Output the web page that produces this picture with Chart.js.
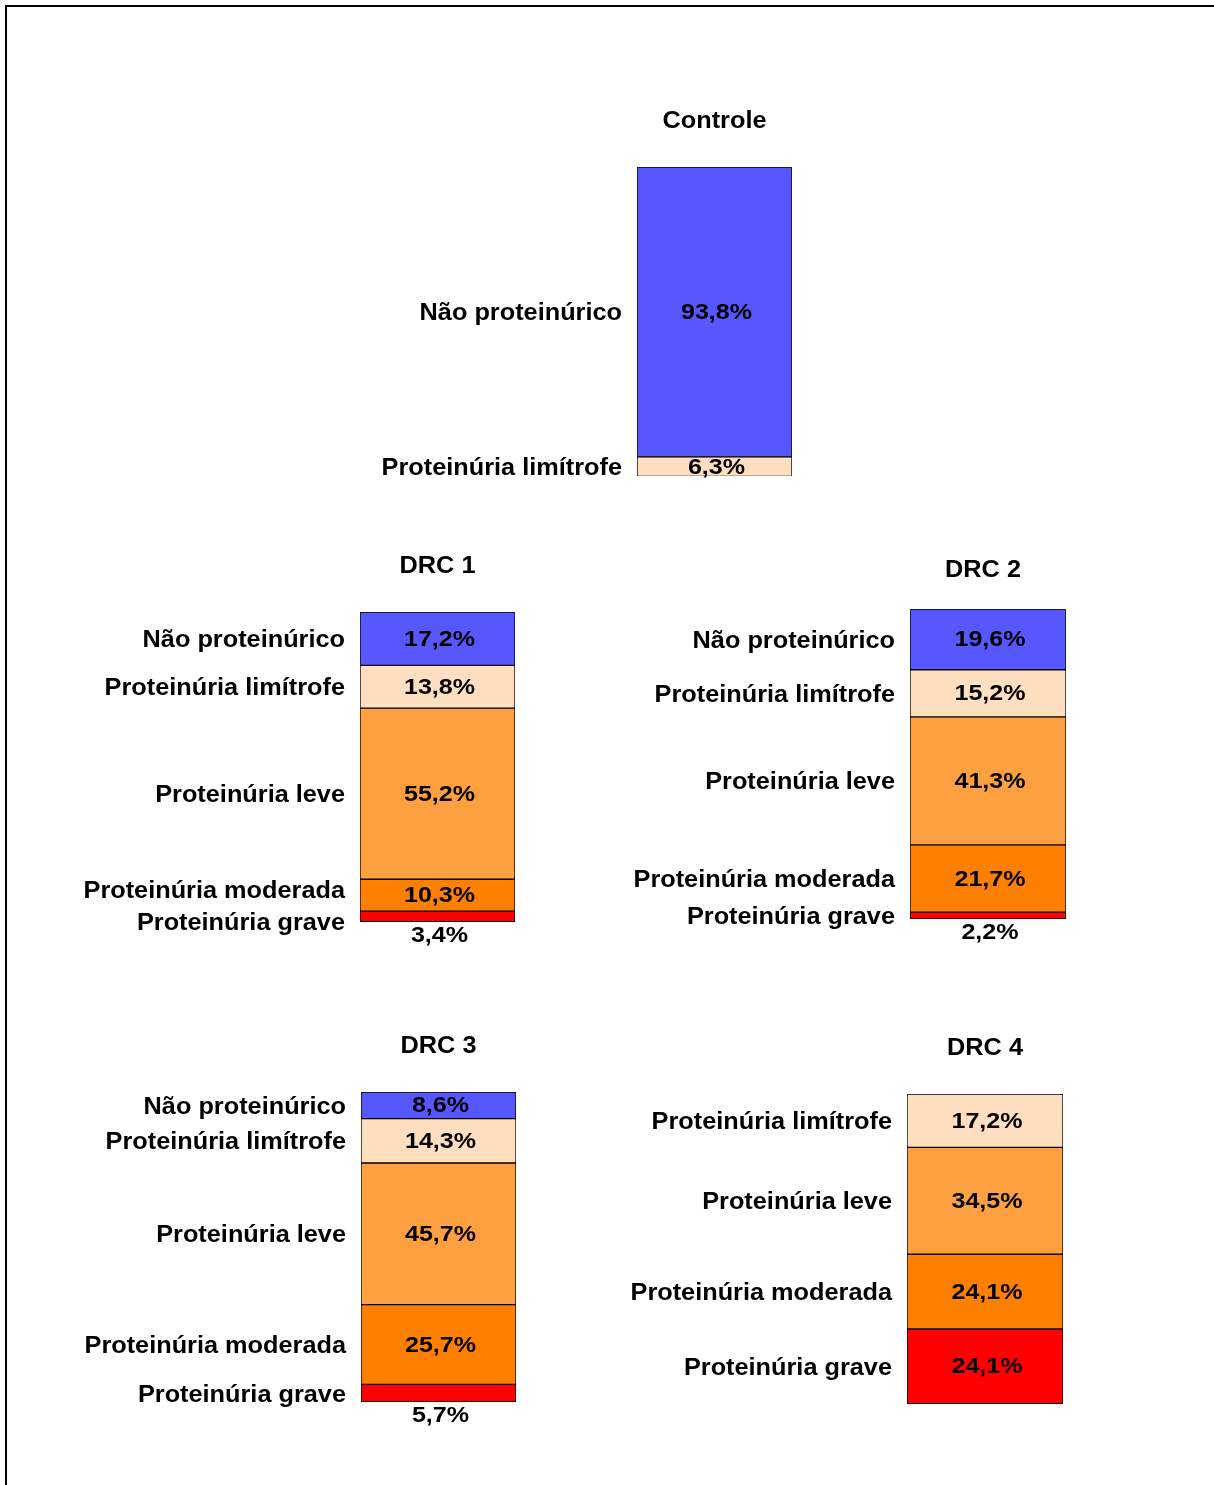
<!DOCTYPE html>
<html>
<head>
<meta charset="utf-8">
<script src="https://cdn.jsdelivr.net/npm/chart.js@4.4.1/dist/chart.umd.min.js"></script>
<style>
    html, body { margin: 0; padding: 0; background: #fff; }
    body { width: 1214px; height: 1485px; position: relative; overflow: hidden; }
    .frame { position: absolute; left: 5px; top: 5px; right: -10px; bottom: -10px; border-left: 2px solid #000; border-top: 2px solid #000; }
    canvas { position: absolute; }
</style>
</head>
<body>
<div class="frame"></div>

<script>
// categories, top to bottom in every bar
const categories = ['Não proteinúrico', 'Proteinúria limítrofe', 'Proteinúria leve', 'Proteinúria moderada', 'Proteinúria grave'];
const categoryColors = ['#5757FF', '#FFDFBF', '#FFA040', '#FF8000', '#FF0000'];

const groupNames = ['Controle', 'DRC 1', 'DRC 2', 'DRC 3', 'DRC 4'];
const controleValues = [93.8, 6.3, null, null, null];
const drc1Values = [17.2, 13.8, 55.2, 10.3, 3.4];
const drc2Values = [19.6, 15.2, 41.3, 21.7, 2.2];
const drc3Values = [8.6, 14.3, 45.7, 25.7, 5.7];
const drc4Values = [null, 17.2, 34.5, 24.1, 24.1];
const groupValues = [controleValues, drc1Values, drc2Values, drc3Values, drc4Values];

// where each bar sits on the page: left, top, width, height, title gap
const panels = [
    { x: 637, y: 167, w: 155, h: 309, titleGap: 47 },
    { x: 360, y: 612, w: 155, h: 310, titleGap: 47 },
    { x: 910, y: 609, w: 156, h: 310, titleGap: 40, titleDx: -5 },
    { x: 361, y: 1092, w: 155, h: 310, titleGap: 47 },
    { x: 907, y: 1094, w: 156, h: 310, titleGap: 47 }
];

const PAD = { left: 340, right: 40, top: 80, bottom: 40 };
const FONT = "'Liberation Sans', Arial, sans-serif";

const fmt = v => v.toFixed(1).replace('.', ',') + '%';

// slightly widened bold text, like the old office chart fonts
function wideText(ctx, text, x, y, align, sx) {
    ctx.save();
    ctx.translate(x, y);
    ctx.scale(sx, 1);
    ctx.textAlign = align;
    ctx.fillText(text, 0, 0);
    ctx.restore();
}

// category names on the left, values inside (or under small slices), title on top
const segmentLabels = {
    id: 'segmentLabels',
    afterDatasetsDraw(chart, args, opts) {
        const ctx = chart.ctx;
        const area = chart.chartArea;
        const items = [];
        chart.data.datasets.forEach((ds, i) => {
            const v = ds.data[0];
            if (v == null) return;
            const bar = chart.getDatasetMeta(i).data[0];
            const top = Math.min(bar.y, bar.base), bottom = Math.max(bar.y, bar.base);
            items.push({ name: ds.label, v, mid: (top + bottom) / 2, ly: (top + bottom) / 2, x: bar.x });
        });

        // keep category names from colliding
        for (let pass = 0; pass < 5; pass++) {
            for (let i = 1; i < items.length; i++) {
                const d = 32 - (items[i].ly - items[i - 1].ly);
                if (d > 0) { items[i - 1].ly -= d / 2; items[i].ly += d / 2; }
            }
        }

        ctx.save();
        ctx.fillStyle = '#000';
        ctx.textBaseline = 'middle';
        items.forEach(it => {
            ctx.font = `bold 23px ${FONT}`;
            wideText(ctx, it.name, area.left - 15, it.ly + 2, 'right', 1.1);

            ctx.font = `bold 22px ${FONT}`;
            const vy = it.v < 6 ? area.bottom + 13 : it.mid;
            wideText(ctx, fmt(it.v), it.x + 2, vy + 1, 'center', 1.14);
        });

        ctx.font = `bold 23px ${FONT}`;
        wideText(ctx, opts.title, (area.left + area.right) / 2 + (opts.titleDx || 0), area.top - opts.titleGap + 2, 'center', 1.1);
        ctx.restore();
    }
};

groupValues.forEach((values, g) => {
    const p = panels[g];
    const canvas = document.createElement('canvas');
    const cw = PAD.left + p.w + PAD.right;
    const ch = PAD.top + p.h + PAD.bottom;
    canvas.width = cw;
    canvas.height = ch;
    canvas.style.width = cw + 'px';
    canvas.style.height = ch + 'px';
    canvas.style.left = (p.x - PAD.left) + 'px';
    canvas.style.top = (p.y - PAD.top) + 'px';
    document.body.appendChild(canvas);

    new Chart(canvas.getContext('2d'), {
        type: 'bar',
        plugins: [segmentLabels],
        data: {
            labels: [groupNames[g]],
            datasets: categories.map((name, i) => ({
                label: name,
                data: [values[i]],
                backgroundColor: categoryColors[i],
                borderColor: '#000',
                borderWidth: 1,
                borderSkipped: false,
                barPercentage: 1,
                categoryPercentage: 1
            }))
        },
        options: {
            responsive: false,
            animation: false,
            layout: { padding: PAD },
            scales: {
                x: { stacked: true, display: false },
                y: { stacked: true, display: false, reverse: true, min: 0, max: 100 }
            },
            plugins: {
                legend: { display: false },
                tooltip: { enabled: false },
                segmentLabels: { title: groupNames[g], titleGap: p.titleGap, titleDx: p.titleDx }
            }
        }
    });
});
</script>
</body>
</html>
